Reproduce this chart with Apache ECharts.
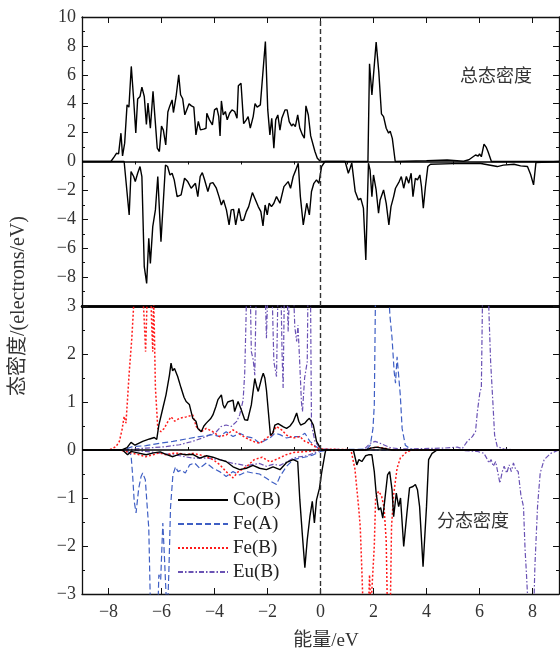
<!DOCTYPE html>
<html><head><meta charset="utf-8">
<script src="https://cdn.jsdelivr.net/npm/echarts@6/dist/echarts.min.js"></script>
<style>html,body{margin:0;padding:0;background:#fff}#c{width:560px;height:654px}</style>
</head><body><div id="c"></div>
<script>
// ---- tick values ----
const xTicksMajor = [-8,-6,-4,-2,0,2,4,6,8];
const xTicksMinor = [-7,-5,-3,-1,1,3,5,7];

// ---- total DOS (energy eV, states) ----
const totalUp = [[-9,0],[-7.91,0],[-7.78,0.34],[-7.70,0.57],[-7.62,0.53],[-7.53,1.96],[-7.47,0.39],[-7.39,1.27],[-7.30,3.92],[-7.23,3.76],[-7.14,6.58],[-7.05,4.27],[-6.97,1.98],[-6.90,4.32],[-6.81,4.50],[-6.74,5.15],[-6.65,4.50],[-6.57,2.57],[-6.51,4.04],[-6.42,2.31],[-6.32,4.85],[-6.24,2.88],[-6.16,0.92],[-6.08,0.69],[-6.00,2.45],[-5.93,2.17],[-5.84,1.15],[-5.76,3.43],[-5.69,3.83],[-5.60,4.26],[-5.55,3.39],[-5.45,4.50],[-5.35,6.00],[-5.28,4.62],[-5.20,4.34],[-5.12,3.23],[-5.05,3.57],[-4.96,3.99],[-4.87,3.85],[-4.78,3.76],[-4.70,1.84],[-4.61,2.77],[-4.53,2.19],[-4.41,2.24],[-4.32,2.30],[-4.29,3.33],[-4.19,2.88],[-4.08,2.54],[-4.00,3.57],[-3.91,3.69],[-3.84,3.12],[-3.79,1.77],[-3.74,4.19],[-3.67,3.23],[-3.59,3.46],[-3.52,2.88],[-3.43,3.34],[-3.34,3.57],[-3.24,3.46],[-3.15,3.00],[-3.10,5.24],[-3.00,5.42],[-2.90,2.62],[-2.80,2.88],[-2.73,3.11],[-2.65,2.31],[-2.54,3.11],[-2.47,4.00],[-2.39,3.76],[-2.27,3.92],[-2.22,3.99],[-2.08,8.30],[-1.99,3.57],[-1.91,1.84],[-1.84,2.99],[-1.76,0.92],[-1.69,2.88],[-1.61,3.22],[-1.53,2.17],[-1.46,2.99],[-1.34,3.57],[-1.26,3.57],[-1.18,2.76],[-1.09,2.46],[-1.03,2.60],[-0.95,2.42],[-0.86,3.22],[-0.78,2.30],[-0.68,1.84],[-0.61,1.61],[-0.55,3.85],[-0.46,3.22],[-0.37,1.77],[-0.30,1.68],[-0.21,0.69],[-0.12,0.23],[0,0],[1.79,0],[1.85,6.76],[1.94,4.61],[2.10,8.26],[2.20,6.2],[2.30,3.3],[2.38,3.1],[2.48,2.3],[2.57,1.96],[2.63,2.1],[2.71,1.6],[2.82,0],[4.0,0.05],[4.78,0.1],[5.4,0.02],[5.6,0.12],[5.85,0.45],[5.95,0.38],[6.0,0.52],[6.07,0.33],[6.17,1.2],[6.25,1.0],[6.32,0.69],[6.45,0],[9,0]];
const totalDown = [[-9,0],[-7.41,0],[-7.22,-3.70],[-7.15,-0.70],[-7.05,-1.04],[-6.99,-1.39],[-6.90,-0.81],[-6.81,-0.35],[-6.74,-1.04],[-6.65,-7.28],[-6.56,-8.44],[-6.48,-5.32],[-6.42,-7.05],[-6.33,-4.51],[-6.23,-3.35],[-6.14,-1.04],[-6.02,-5.55],[-5.85,-0.24],[-5.77,-0.35],[-5.68,-0.93],[-5.60,-0.81],[-5.52,-1.27],[-5.41,-2.43],[-5.26,-2.31],[-5.13,-1.16],[-5.01,-1.39],[-4.88,-1.85],[-4.82,-1.78],[-4.72,-1.51],[-4.63,-2.43],[-4.54,-1.04],[-4.46,-0.77],[-4.38,-1.23],[-4.25,-2.08],[-4.16,-1.51],[-4.06,-1.46],[-3.93,-1.85],[-3.83,-2.43],[-3.74,-3.01],[-3.66,-2.66],[-3.55,-3.35],[-3.45,-4.39],[-3.37,-3.35],[-3.28,-3.31],[-3.20,-4.39],[-3.08,-3.24],[-2.99,-4.09],[-2.90,-4.05],[-2.80,-3.47],[-2.71,-3.12],[-2.57,-2.15],[-2.48,-2.55],[-2.35,-3.12],[-2.25,-3.47],[-2.17,-4.46],[-2.09,-3.01],[-2.01,-3.70],[-1.94,-2.89],[-1.85,-3.12],[-1.76,-2.89],[-1.66,-2.43],[-1.53,-2.89],[-1.38,-1.74],[-1.22,-1.39],[-1.13,-1.85],[-1.03,-1.04],[-0.93,-0.58],[-0.84,-0.12],[-0.76,-2.43],[-0.65,-4.39],[-0.52,-2.89],[-0.42,-3.70],[-0.34,-2.08],[-0.25,-1.51],[-0.15,-1.27],[-0.06,-1.51],[0.04,-0.35],[0.17,0],[0.93,0],[1.05,-0.81],[1.12,-0.45],[1.18,-0.1],[1.31,-2.08],[1.43,-2.66],[1.52,-2.55],[1.62,-3.23],[1.71,-6.81],[1.81,-0.12],[1.87,-0.58],[1.94,-2.43],[2.0,-0.93],[2.1,-1.97],[2.19,-3.58],[2.25,-2.66],[2.38,-1.97],[2.48,-2.9],[2.58,-4.39],[2.66,-3.12],[2.76,-2.43],[2.83,-1.85],[2.9,-1.97],[2.97,-1.39],[3.05,-1.04],[3.14,-1.85],[3.24,-1.04],[3.33,-1.5],[3.42,-0.81],[3.49,-2.43],[3.58,-1.16],[3.66,-1.27],[3.75,-0.93],[3.81,-1.73],[3.88,-3.23],[3.96,-1.73],[4.05,-0.35],[4.15,-0.19],[5.0,-0.15],[6.0,-0.12],[6.67,-0.35],[6.9,-0.25],[7.3,-0.19],[7.55,-0.3],[7.81,-0.35],[7.93,-0.9],[8.04,-1.62],[8.13,-0.07],[8.2,0],[9,0]];

// ---- partial DOS ----
const coUp = [[-9,0],[-7.5,0],[-7.3,0.05],[-7.15,0.16],[-7.0,0.1],[-6.71,0.18],[-6.45,0.23],[-6.27,0.26],[-6.18,0.22],[-6.1,0.52],[-5.95,0.87],[-5.83,1.15],[-5.7,1.56],[-5.64,1.81],[-5.58,1.65],[-5.51,1.70],[-5.39,1.53],[-5.26,1.29],[-5.15,1.1],[-5.07,1.01],[-4.95,0.95],[-4.82,0.66],[-4.7,0.6],[-4.63,0.45],[-4.5,0.38],[-4.4,0.5],[-4.31,0.56],[-4.15,0.65],[-4.06,0.73],[-3.95,0.9],[-3.87,1.05],[-3.74,1.15],[-3.68,0.95],[-3.62,0.87],[-3.5,1.0],[-3.43,0.97],[-3.3,1.04],[-3.24,0.80],[-3.11,1.01],[-2.99,0.84],[-2.86,0.63],[-2.75,0.62],[-2.61,0.94],[-2.48,1.49],[-2.4,1.3],[-2.35,1.22],[-2.22,1.5],[-2.16,1.60],[-2.1,1.5],[-2.04,1.25],[-1.89,0.31],[-1.8,0.35],[-1.72,0.52],[-1.6,0.55],[-1.53,0.59],[-1.4,0.48],[-1.28,0.45],[-1.15,0.5],[-1.03,0.59],[-0.9,0.77],[-0.82,0.6],[-0.75,0.52],[-0.59,0.56],[-0.5,0.62],[-0.42,0.66],[-0.35,0.6],[-0.27,0.52],[-0.15,0.18],[0.04,0],[1.7,0],[1.9,0.04],[2.1,0.06],[2.4,0.03],[2.7,0],[9,0]];
const coDown = [[-9,0],[-7.47,0],[-7.28,-0.10],[-7.15,-0.03],[-6.9,-0.06],[-6.58,-0.1],[-6.3,-0.06],[-6.05,-0.04],[-5.83,-0.09],[-5.57,-0.14],[-5.3,-0.08],[-5.07,-0.1],[-4.82,-0.09],[-4.56,-0.17],[-4.3,-0.12],[-4.06,-0.15],[-3.8,-0.2],[-3.56,-0.24],[-3.3,-0.35],[-3.05,-0.41],[-2.8,-0.38],[-2.55,-0.32],[-2.3,-0.38],[-2.04,-0.41],[-1.79,-0.35],[-1.53,-0.41],[-1.28,-0.26],[-1.03,-0.2],[-0.86,-0.24],[-0.78,-1.04],[-0.68,-1.8],[-0.59,-2.45],[-0.5,-1.87],[-0.4,-1.39],[-0.31,-1.07],[-0.23,-1.52],[-0.15,-1.04],[-0.04,-0.8],[0.04,-0.48],[0.17,-0.07],[0.2,0],[1.24,0],[1.37,-0.31],[1.45,-0.2],[1.56,-0.24],[1.7,-0.12],[1.81,-0.1],[1.94,-0.1],[2.03,-0.45],[2.1,-0.9],[2.19,-1.25],[2.27,-1.2],[2.35,-1.42],[2.44,-0.97],[2.53,-0.52],[2.61,-0.45],[2.7,-0.83],[2.76,-1.39],[2.86,-0.9],[2.95,-1.18],[3.02,-1.0],[3.14,-2.01],[3.26,-1.32],[3.36,-0.79],[3.49,-0.76],[3.58,-0.72],[3.66,-0.83],[3.74,-1.18],[3.87,-2.43],[4.0,-1.18],[4.08,-0.2],[4.21,-0.07],[4.4,0],[9,0]];
const feAUp = [[-9,0],[-7.47,0],[-7.09,0.07],[-6.59,0.09],[-6.08,0.14],[-5.57,0.18],[-5.07,0.23],[-4.56,0.28],[-4.06,0.32],[-3.81,0.28],[-3.56,0.38],[-3.3,0.28],[-3.05,0.35],[-2.8,0.28],[-2.55,0.25],[-2.29,0.14],[-2.1,0.2],[-1.91,0.25],[-1.72,0.35],[-1.53,0.32],[-1.28,0.25],[-1.03,0.28],[-0.78,0.28],[-0.59,0.35],[-0.4,0.18],[-0.21,0.09],[0,0],[1.75,0.02],[1.88,0.1],[1.98,0.45],[2.03,0.94],[2.08,3.5],[2.3,5.5],[2.55,3.5],[2.62,2.8],[2.7,2.33],[2.78,1.63],[2.83,1.39],[2.89,1.94],[2.95,1.91],[3.01,1.15],[3.08,0.45],[3.2,0.1],[3.39,0.02],[3.6,0],[9,0]];
const feADown = [[-9,0],[-7.34,0],[-7.22,-0.05],[-7.15,-0.1],[-7.09,-0.52],[-7.03,-1.07],[-6.96,-1.31],[-6.86,-0.8],[-6.77,-0.55],[-6.71,-0.48],[-6.61,-0.62],[-6.55,-1.1],[-6.48,-1.63],[-6.43,-2.95],[-6.4,-3.6],[-6.15,-3.6],[-6.1,-2.6],[-6.03,-2.7],[-5.95,-1.52],[-5.89,-2.22],[-5.83,-2.98],[-5.78,-3.5],[-5.72,-2.5],[-5.66,-1.2],[-5.57,-0.52],[-5.47,-0.35],[-5.38,-0.45],[-5.26,-0.42],[-5.1,-0.48],[-4.94,-0.31],[-4.75,-0.27],[-4.56,-0.38],[-4.31,-0.27],[-4.06,-0.38],[-3.81,-0.45],[-3.56,-0.55],[-3.3,-0.45],[-3.05,-0.52],[-2.8,-0.45],[-2.55,-0.48],[-2.3,-0.5],[-2.04,-0.59],[-1.85,-0.66],[-1.66,-0.72],[-1.53,-0.55],[-1.28,-0.34],[-1.03,-0.2],[-0.78,-0.17],[-0.52,-0.14],[-0.27,-0.1],[0,-0.03],[0.3,0],[9,0]];
const feBUp = [[-9,0],[-7.97,0],[-7.72,0.07],[-7.59,0.18],[-7.49,0.42],[-7.41,0.7],[-7.34,0.56],[-7.22,1.6],[-7.12,2.33],[-7.03,3.2],[-6.9,4.0],[-6.75,3.6],[-6.66,2.8],[-6.6,2.05],[-6.55,3.0],[-6.5,3.8],[-6.42,3.6],[-6.37,2.6],[-6.33,2.05],[-6.3,3.2],[-6.27,2.5],[-6.23,1.3],[-6.14,0.45],[-6.02,0.38],[-5.9,0.45],[-5.76,0.59],[-5.64,0.69],[-5.5,0.6],[-5.32,0.66],[-5.07,0.69],[-4.82,0.73],[-4.69,0.49],[-4.5,0.38],[-4.31,0.45],[-4.06,0.38],[-3.81,0.28],[-3.56,0.31],[-3.3,0.42],[-3.05,0.33],[-2.8,0.25],[-2.54,0.18],[-2.29,0.14],[-2.04,0.25],[-1.85,0.31],[-1.66,0.49],[-1.47,0.42],[-1.28,0.31],[-1.03,0.25],[-0.78,0.28],[-0.59,0.18],[-0.4,0.14],[-0.21,0.07],[0,0.02],[1.7,0],[1.9,0.04],[2.15,0.06],[2.4,0.04],[2.7,0],[9,0]];
const feBDown = [[-9,0],[-7.59,0],[-7.22,-0.05],[-6.84,-0.1],[-6.59,-0.14],[-6.33,-0.1],[-6.08,-0.06],[-5.83,-0.1],[-5.55,-0.07],[-5.32,-0.07],[-5.07,-0.1],[-4.82,-0.07],[-4.56,-0.1],[-4.31,-0.14],[-4.06,-0.2],[-3.81,-0.3],[-3.56,-0.45],[-3.3,-0.58],[-3.1,-0.45],[-2.8,-0.35],[-2.5,-0.2],[-2.2,-0.15],[-1.9,-0.25],[-1.6,-0.18],[-1.3,-0.1],[-1.0,-0.05],[-0.5,-0.03],[0,0],[1.15,0],[1.3,-0.4],[1.44,-1.2],[1.5,-1.6],[1.56,-2.5],[1.62,-3.5],[1.8,-3.5],[1.85,-2.6],[1.9,-3.3],[1.96,-3.3],[2.03,-2.0],[2.08,-1.0],[2.19,-0.86],[2.3,-0.95],[2.4,-1.2],[2.48,-1.9],[2.53,-3.5],[2.63,-3.5],[2.68,-1.6],[2.76,-0.93],[2.89,-0.38],[3.01,-0.17],[3.27,-0.03],[3.5,0],[9,0]];
const euUp = [[-9,0],[-7.47,0],[-6.59,0.04],[-5.83,0.07],[-5.32,0.11],[-4.82,0.18],[-4.31,0.28],[-3.93,0.38],[-3.75,0.49],[-3.56,0.52],[-3.37,0.49],[-3.17,0.59],[-3.05,0.73],[-2.92,1.04],[-2.86,1.6],[-2.82,2.5],[-2.78,3.5],[-2.7,4],[-2.64,3],[-2.61,2.05],[-2.54,1.88],[-2.48,1.56],[-2.42,3.5],[-2.2,4],[-2.08,3.2],[-2.04,2.33],[-1.98,3.5],[-1.85,3.8],[-1.76,1.84],[-1.66,1.53],[-1.6,3.5],[-1.5,3.6],[-1.45,2.0],[-1.41,1.29],[-1.36,3.5],[-1.27,3.5],[-1.22,2.47],[-1.16,3.5],[-1.03,3.5],[-0.97,2.57],[-0.9,2.26],[-0.85,2.6],[-0.78,1.77],[-0.72,1.0],[-0.68,0.8],[-0.6,1.5],[-0.5,1.84],[-0.47,3.5],[-0.38,3.5],[-0.34,0.52],[-0.21,0.18],[0,0.02],[1.62,0],[1.88,0.14],[2.06,0.18],[2.25,0.14],[2.63,0.05],[3,0.02],[4.65,0.04],[4.91,0.05],[5.16,0.06],[5.35,0.03],[5.54,0.18],[5.73,0.28],[5.85,0.38],[5.92,0.8],[6.02,1.22],[6.07,1.29],[6.11,3.0],[6.2,5],[6.3,4],[6.36,2.8],[6.42,1.84],[6.51,0.94],[6.57,0.31],[6.67,0.07],[6.93,0.02],[7.5,0],[9,0]];
const euDown = [[-9,0],[-7.22,0],[-6.59,-0.03],[-5.83,-0.08],[-5.3,-0.12],[-4.82,-0.17],[-4.3,-0.17],[-3.81,-0.2],[-3.3,-0.28],[-3.05,-0.3],[-2.8,-0.33],[-2.55,-0.3],[-2.3,-0.28],[-2.04,-0.34],[-1.79,-0.3],[-1.53,-0.32],[-1.28,-0.25],[-1.03,-0.17],[-0.78,-0.14],[-0.52,-0.12],[-0.27,-0.07],[0,0],[5.16,0],[5.92,-0.03],[6.17,-0.07],[6.27,-0.17],[6.36,-0.27],[6.44,-0.2],[6.52,-0.34],[6.61,-0.24],[6.67,-0.41],[6.77,-0.69],[6.86,-0.45],[6.93,-0.34],[7.03,-0.48],[7.12,-0.31],[7.2,-0.45],[7.28,-0.27],[7.37,-0.41],[7.46,-0.45],[7.56,-0.93],[7.66,-1.18],[7.72,-2.08],[7.77,-2.56],[7.81,-3.0],[7.85,-3.5],[8.04,-3.5],[8.09,-2.43],[8.19,-1.18],[8.29,-0.48],[8.44,-0.2],[8.69,-0.07],[9,0]];

// ---- styles ----
const FONT = "'Liberation Serif','Noto Sans CJK SC',serif";
const CJK = "'Noto Sans CJK SC',sans-serif";
const minus = v => String(v).replace('-', '\u2212');
const BLACK = '#000', BLUE = '#3f5fc4', RED = '#ff1a1a', PURPLE = '#6a52b4';

function xAx(grid, pos, o) {
  return Object.assign({
    gridIndex: grid, type: 'value', position: pos, min: -9, max: 9, interval: 1,
    axisLine: {show: true, onZero: false, lineStyle: {color: '#111', width: 1.3}},
    axisTick: {show: false},
    axisLabel: {show: false},
    splitLine: {show: false}
  }, o);
}
function yAx(grid, pos, min, max, iv, labels) {
  return {
    gridIndex: grid, type: 'value', position: pos, min: min, max: max, interval: iv,
    axisLine: {show: true, onZero: false, lineStyle: {color: '#111', width: 1.3}},
    axisTick: {show: true, inside: true, length: 6, lineStyle: {color: '#111', width: 1}},
    minorTick: {show: true, splitNumber: 2, length: 3, lineStyle: {color: '#111', width: 1}},
    axisLabel: {show: labels, margin: 6, color: '#333', fontFamily: FONT, fontSize: 18,
      formatter: v => (v === -10 ? '' : minus(v))},
    splitLine: {show: false}
  };
}
const majorTick = {show: true, inside: true, length: 6, customValues: xTicksMajor, lineStyle: {color: '#111', width: 1}};
const minorTickX = {show: true, inside: true, length: 3, customValues: xTicksMinor, lineStyle: {color: '#111', width: 1}};

function line(name, data, xi, yi, color, type, width, extra) {
  return Object.assign({
    name: name, type: 'line', data: data, xAxisIndex: xi, yAxisIndex: yi,
    symbol: 'none', showSymbol: false, smooth: false, clip: true, animation: false,
    lineStyle: {color: color, type: type, width: width}, itemStyle: {color: color}
  }, extra || {});
}
function refLines() {
  return {markLine: {silent: true, symbol: ['none', 'none'], label: {show: false}, animation: false,
    data: [
      {yAxis: 0, lineStyle: {type: 'solid', color: '#000', width: 1.5}},
      {xAxis: 0, lineStyle: {type: [5, 3], color: '#333', width: 1.4}}
    ]}};
}

const chart = echarts.init(document.getElementById('c'), null, {renderer: 'canvas'});
chart.setOption({
  animation: false,
  backgroundColor: '#fff',
  grid: [
    {left: 82, top: 17, width: 477, height: 289},
    {left: 82, top: 306, width: 477, height: 288}
  ],
  xAxis: [
    xAx(0, 'bottom', {axisLine: {show: true, onZero: false, lineStyle: {color: '#000', width: 2.5}}}),
    xAx(0, 'top', {axisTick: majorTick}),
    xAx(0, 'top', {axisLine: {show: false}, axisTick: minorTickX}),
    xAx(1, 'bottom', {axisTick: majorTick,
      axisLabel: {show: true, customValues: xTicksMajor, margin: 9, color: '#333', fontFamily: FONT, fontSize: 18, formatter: v => minus(v)}}),
    xAx(1, 'bottom', {axisLine: {show: false}, axisTick: minorTickX}),
    xAx(1, 'top', {axisLine: {show: true, onZero: false, lineStyle: {color: '#000', width: 2.5}}})
  ],
  yAxis: [
    yAx(0, 'left', -10, 10, 2, true),
    yAx(0, 'right', -10, 10, 2, false),
    yAx(1, 'left', -3, 3, 1, true),
    yAx(1, 'right', -3, 3, 1, false)
  ],
  legend: {
    orient: 'vertical', left: 172, top: 484, padding: 5,
    itemWidth: 50, itemHeight: 14, itemGap: 2,
    itemStyle: {opacity: 0},
    data: ['Co(B)', 'Fe(A)', 'Fe(B)', 'Eu(B)'],
    textStyle: {fontFamily: FONT, fontSize: 19, color: '#222', lineHeight: 22}
  },
  series: [
    line('总态密度', totalUp, 0, 0, BLACK, 'solid', 1.4, refLines()),
    line('总态密度 ', totalDown, 0, 0, BLACK, 'solid', 1.4),
    line('Eu(B)', euUp, 3, 2, PURPLE, [5, 2, 1.5, 2], 1.2),
    line('Eu(B)', euDown, 3, 2, PURPLE, [5, 2, 1.5, 2], 1.2),
    line('Fe(A)', feAUp, 3, 2, BLUE, [6, 3], 1.2),
    line('Fe(A)', feADown, 3, 2, BLUE, [6, 3], 1.2),
    line('Fe(B)', feBUp, 3, 2, RED, [2, 2], 1.5),
    line('Fe(B)', feBDown, 3, 2, RED, [2, 2], 1.5),
    line('Co(B)', coUp, 3, 2, BLACK, 'solid', 1.4, refLines()),
    line('Co(B)', coDown, 3, 2, BLACK, 'solid', 1.4)
  ],
  graphic: [
    {type: 'text', x: 496, y: 75, style: {text: '总态密度', font: "18px " + CJK, fill: '#333', align: 'center', verticalAlign: 'middle'}},
    {type: 'text', x: 473, y: 520, style: {text: '分态密度', font: "18px " + CJK, fill: '#333', align: 'center', verticalAlign: 'middle'}},
    {type: 'text', x: 19, y: 306, rotation: Math.PI / 2, style: {text: '态密度/(electrons/eV)', font: "20px " + FONT, fill: '#333', align: 'center', verticalAlign: 'middle'}},
    {type: 'text', x: 326, y: 641, style: {text: '能量/eV', font: "19px " + FONT, fill: '#333', align: 'center', verticalAlign: 'middle'}}
  ]
});
</script>
</body></html>
